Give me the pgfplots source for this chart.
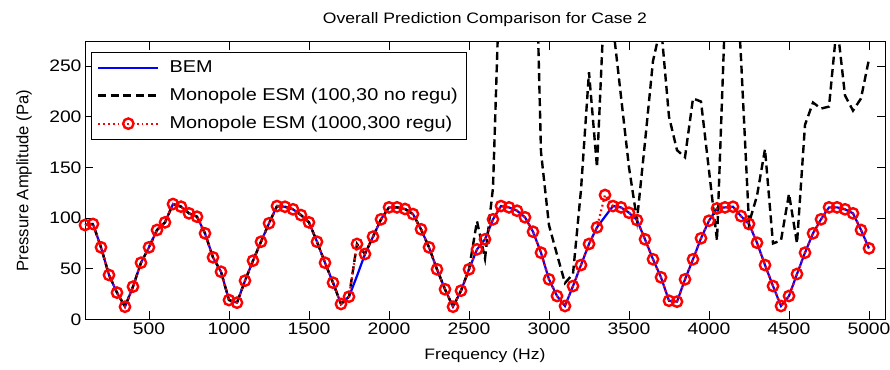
\documentclass[border=0pt]{standalone}
\usepackage{pgfplots}
\usepackage{pgfplotstable}
\pgfplotsset{compat=1.18}
\usepackage{fontspec}
\setmainfont{Liberation Sans}[FakeStretch=1.16]
\newfontfamily\plainfont{Liberation Sans}

\pgfplotstableread{
f bem esm noregu
100 93.2 93.2 93.2
150 94.2 94.2 94.2
200 71.2 71.2 71.2
250 43.9 43.9 43.9
300 26.5 26.5 26.5
350 12.6 12.6 12.6
400 32.4 32.4 32.4
450 56.0 56.0 56.0
500 71.2 71.2 71.2
550 88.3 88.3 88.3
600 95.8 95.8 95.8
650 113.9 113.9 113.9
700 111.3 111.3 111.3
750 104.7 104.7 104.7
800 101.4 101.4 101.4
850 85.0 85.0 85.0
900 61.3 61.3 61.3
950 47.1 47.1 47.1
1000 19.2 19.2 19.2
1050 16.6 16.6 16.6
1100 38.3 38.3 38.3
1150 58.0 58.0 58.0
1200 76.7 76.7 76.7
1250 94.9 94.9 94.9
1300 111.9 111.9 111.9
1350 111.2 111.2 111.2
1400 108.7 108.7 108.7
1450 103.0 103.0 103.0
1500 95.8 95.8 95.8
1550 76.7 76.7 76.7
1600 56.0 56.0 56.0
1650 36.3 36.3 36.3
1700 15.3 15.3 15.3
1750 22.5 22.5 22.5
1800 43.0 74.5 74.5
1850 64.6 64.6 64.6
1900 81.7 81.7 81.7
1950 98.8 98.8 98.8
2000 110.6 110.6 110.6
2050 110.6 110.6 110.6
2100 109.0 109.0 109.0
2150 104.0 104.0 104.0
2200 89.0 89.0 89.0
2250 71.2 71.2 71.2
2300 49.5 49.5 49.5
2350 29.8 29.8 29.8
2400 12.6 12.6 12.6
2450 28.4 28.4 28.4
2500 49.5 49.5 49.5
2550 69.2 69.2 97
2600 79.1 79.1 60
2650 98.8 98.8 130
2700 111.9 111.9 380
2750 110.6 110.6 520
2800 107.3 107.3 600
2850 100.8 100.8 560
2900 86.6 86.6 485
2950 65.9 65.9 165
3000 39.6 39.6 93
3050 23.2 23.2 64
3100 13.3 13.3 36
3150 33.0 33.0 45
3200 53.7 53.7 128
3250 74.5 74.5 244
3300 90.9 90.9 150
3350 101.5 122.8 330
3400 111.9 111.9 290
3450 110.6 110.6 220
3500 105.3 105.3 150
3550 98.1 98.1 98
3600 79.1 79.1 175
3650 59.4 59.4 255
3700 41.6 41.6 290
3750 18.5 18.5 200
3800 17.6 17.6 167
3850 39.6 39.6 160
3900 59.4 59.4 218
3950 80.1 80.1 215
4000 97.4 97.4 147
4050 109.6 109.6 78
4100 110.6 110.6 300
4150 111.2 111.2 400
4200 102.0 102.0 258
4250 94.2 94.2 95
4300 75.7 75.7 122
4350 53.7 53.7 168
4400 33.0 33.0 75
4450 13.3 13.3 78
4500 23.2 23.2 124
4550 44.9 44.9 75
4600 65.9 65.9 192
4650 85.0 85.0 214
4700 98.8 98.8 208
4750 110.6 110.6 210
4800 110.6 110.6 292
4850 108.7 108.7 221
4900 104.7 104.7 206
4950 88.3 88.3 218
5000 70.2 70.2 257
}\datatable

\begin{document}
\begin{tikzpicture}
\begin{axis}[
  scale only axis,
  width=800bp, height=277.8bp,
  xmin=100, xmax=5100, ymin=0, ymax=274,
  xtick={500,1000,...,5000}, ytick={0,50,...,250},
  tick align=inside, tick pos=both, major tick length=8bp,
  axis line style={line width=0.9bp},
  every tick/.style={black, line width=0.9bp},
  font=\fontsize{16.7}{20}\selectfont,
  /pgf/number format/assume math mode=true,
  /pgf/number format/1000 sep={},
  clip mode=individual,
  title={Overall Prediction Comparison for Case 2},
  title style={at={([yshift=16bp]axis description cs:0.5,1)}, anchor=center, font=\fontsize{15.2}{18}\selectfont},
  xlabel={Frequency (Hz)},
  xlabel style={at={([yshift=-36bp]axis description cs:0.5,0)}, anchor=center, font=\fontsize{15.2}{18}\selectfont},
  ylabel={\plainfont Pressure Amplitude (Pa)},
  ylabel style={at={([xshift=-61bp]axis description cs:0,0.5)}, anchor=center},
  legend cell align=left,
  legend image code/.code={\draw[mark repeat=2,mark phase=2,#1] plot coordinates {(0bp,0bp) (30bp,0bp) (60bp,0bp)};},
  legend style={at={(axis description cs:0.0071,0.964)}, anchor=north west,
    draw=black, line width=0.9bp, fill=white, inner xsep=6bp, inner ysep=1.5bp,
    column sep=7bp,
    nodes={inner xsep=3bp, inner ysep=6bp, text height=12.5bp, text depth=3.5bp},
    font=\fontsize{17.2}{20}\selectfont},
]
\coordinate (sw) at (rel axis cs:0,0);
\addplot[blue, line width=2.2bp] table[x=f,y=bem] {\datatable};
\addlegendentry{BEM}
\addplot[black, line width=2.4bp, dash pattern=on 8bp off 4.5bp] table[x=f,y=noregu] {\datatable};
\addlegendentry{Monopole ESM (100,30 no regu)\hspace{9bp}}
\addplot[red, line width=2.2bp, dash pattern=on 1.8bp off 3bp, mark=o, mark size=5.2bp, mark options={solid, line width=2.4bp}] table[x=f,y=esm] {\datatable};
\addlegendentry{Monopole ESM (1000,300 regu)}
\end{axis}
\pgfresetboundingbox
\path (sw) ++(-85bp,-50.5bp) rectangle ++(890bp,370bp);
\end{tikzpicture}
\end{document}
